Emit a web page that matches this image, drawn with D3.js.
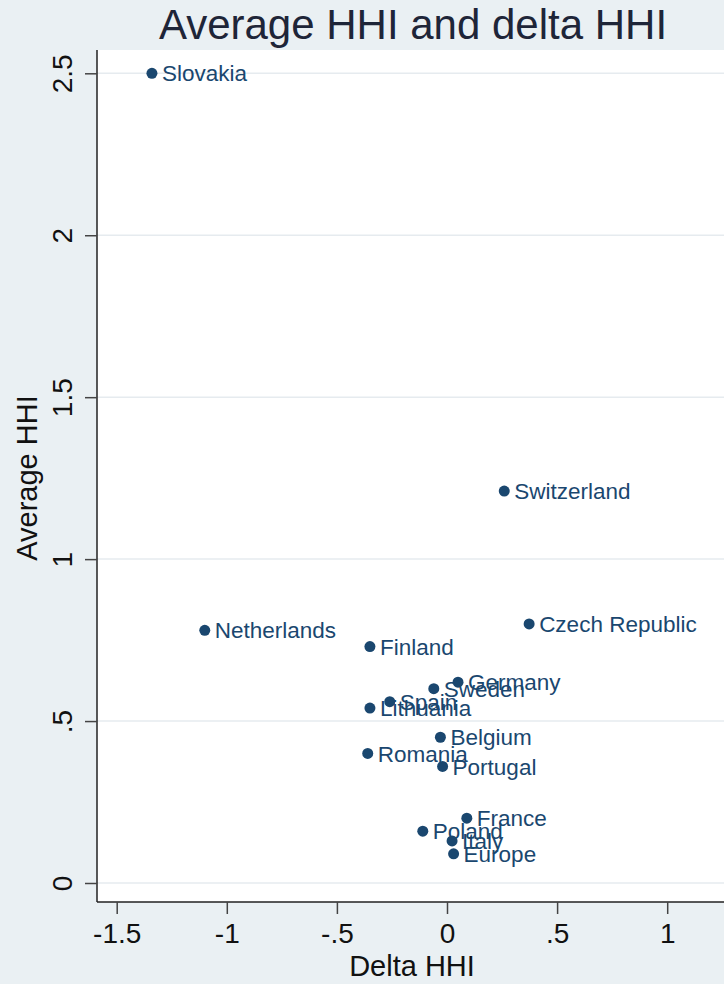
<!DOCTYPE html>
<html>
<head>
<meta charset="utf-8">
<script src="https://cdn.jsdelivr.net/npm/d3@7"></script>
<style>
  body { margin: 0; background: #eaf0f3; }
  svg { display: block; font-family: "Liberation Sans", Arial, sans-serif; }
</style>
</head>
<body>
<div id="chart-area"></div>
<script>
// Datos
const countries = ["Slovakia", "Switzerland", "Czech Republic", "Netherlands", "Finland",
    "Germany", "Sweden", "Spain", "Lithuania", "Belgium", "Romania", "Portugal",
    "France", "Poland", "Italy", "Europe"];
const deltaHHI = [-1.34, 0.26, 0.373, -1.10, -0.35, 0.05, -0.06, -0.26, -0.35, -0.03,
    -0.36, -0.02, 0.09, -0.11, 0.023, 0.03];
const avgHHI = [2.5, 1.21, 0.80, 0.78, 0.73, 0.62, 0.60, 0.56, 0.54, 0.45,
    0.40, 0.36, 0.20, 0.16, 0.13, 0.09];
const xTicks = [-1.5, -1, -0.5, 0, 0.5, 1];
const xTickLabels = ["-1.5", "-1", "-.5", "0", ".5", "1"];
const yTicks = [0, 0.5, 1, 1.5, 2, 2.5];
const yTickLabels = ["0", ".5", "1", "1.5", "2", "2.5"];

const data = countries.map((c, i) => ({ name: c, dx: deltaHHI[i], avg: avgHHI[i] }));

const width = 724;
const height = 984;
const plot = { left: 97, right: 724, top: 50, bottom: 902 };

const svg = d3.select("#chart-area")
    .append("svg")
    .attr("width", width)
    .attr("height", height);

// Fondo
svg.append("rect")
    .attr("width", width)
    .attr("height", height)
    .attr("fill", "#eaf0f3");

svg.append("rect")
    .attr("x", plot.left)
    .attr("y", plot.top)
    .attr("width", plot.right - plot.left)
    .attr("height", plot.bottom - plot.top)
    .attr("fill", "#ffffff");

// Escalas
const x = d3.scaleLinear()
    .domain([-1.5, 1])
    .range([116.7, 667.2]);

const y = d3.scaleLinear()
    .domain([0, 2.5])
    .range([883, 73.3]);

// Rejilla
svg.append("g")
    .selectAll("line")
    .data(yTicks)
    .enter()
    .append("line")
    .attr("x1", plot.left)
    .attr("x2", plot.right)
    .attr("y1", d => y(d))
    .attr("y2", d => y(d))
    .attr("stroke", "#e6ebef")
    .attr("stroke-width", 1.5);

// Ejes
const bottomAxis = d3.axisBottom(x)
    .tickValues(xTicks)
    .tickFormat((d, i) => xTickLabels[i])
    .tickSize(12)
    .tickSizeOuter(0)
    .tickPadding(9);
const gx = svg.append("g")
    .attr("transform", `translate(0, ${plot.bottom})`)
    .call(bottomAxis);
gx.select(".domain")
    .attr("d", `M${plot.left},0H${plot.right}`)
    .attr("stroke", "#222")
    .attr("stroke-width", 1.5);
gx.selectAll(".tick line").attr("stroke", "#444").attr("stroke-width", 1.5);
gx.selectAll("text")
    .attr("font-size", "28px")
    .attr("fill", "#111");

const leftAxis = d3.axisLeft(y)
    .tickValues(yTicks)
    .tickFormat((d, i) => yTickLabels[i])
    .tickSize(12)
    .tickSizeOuter(0);
const gy = svg.append("g")
    .attr("transform", `translate(${plot.left}, 0)`)
    .call(leftAxis);
gy.select(".domain")
    .attr("d", `M0,${plot.top}V${plot.bottom}`)
    .attr("stroke", "#222")
    .attr("stroke-width", 1.5);
gy.selectAll(".tick line").attr("stroke", "#444").attr("stroke-width", 1.5);
gy.selectAll("text")
    .attr("transform", "rotate(-90)")
    .attr("x", 0)
    .attr("y", -25)
    .attr("dy", 0)
    .attr("text-anchor", "middle")
    .attr("font-size", "28px")
    .attr("fill", "#111");

// Títulos
svg.append("text")
    .attr("x", 413)
    .attr("y", 39)
    .attr("text-anchor", "middle")
    .attr("font-size", "42px")
    .attr("fill", "#1e2538")
    .text("Average HHI and delta HHI");

svg.append("text")
    .attr("x", 412)
    .attr("y", 976)
    .attr("text-anchor", "middle")
    .attr("font-size", "29px")
    .attr("fill", "#111")
    .text("Delta HHI");

svg.append("text")
    .attr("transform", "translate(37, 478) rotate(-90)")
    .attr("text-anchor", "middle")
    .attr("font-size", "29px")
    .attr("fill", "#111")
    .text("Average HHI");

// Puntos y etiquetas
const pts = svg.append("g");
pts.selectAll("circle")
    .data(data)
    .enter()
    .append("circle")
    .attr("cx", d => x(d.dx))
    .attr("cy", d => y(d.avg))
    .attr("r", 5.5)
    .attr("fill", "#1a476f");

pts.selectAll("text")
    .data(data)
    .enter()
    .append("text")
    .attr("x", d => x(d.dx) + 10)
    .attr("y", d => y(d.avg))
    .attr("dy", "0.36em")
    .attr("font-size", "22.5px")
    .attr("fill", "#1a476f")
    .text(d => d.name);
</script>
</body>
</html>
